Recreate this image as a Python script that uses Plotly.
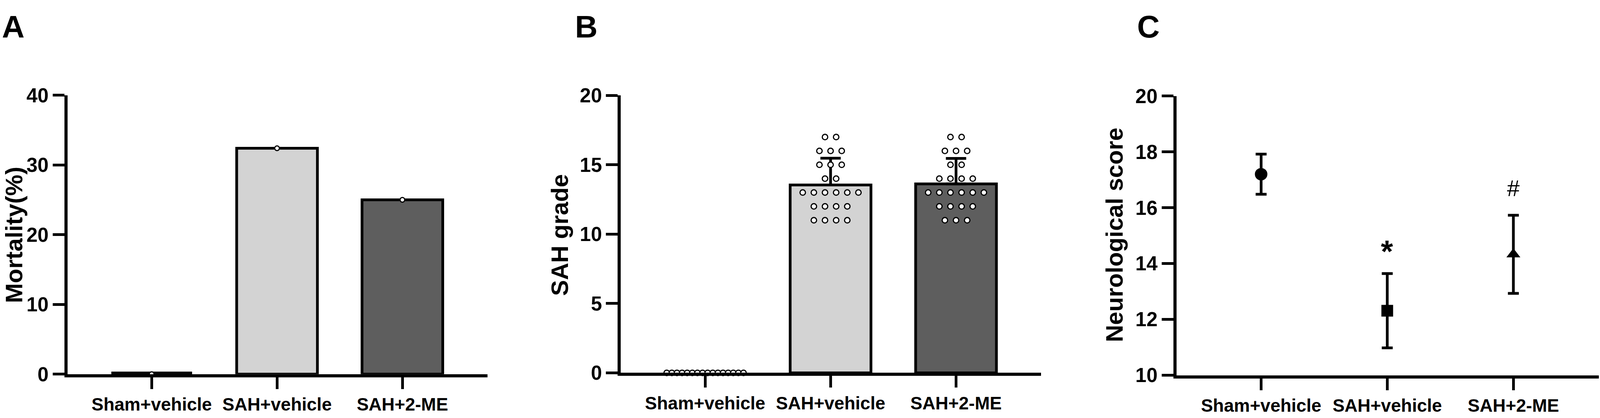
import statistics
import plotly.graph_objects as go

# ---------------- data ----------------
categories = ["Sham+vehicle", "SAH+vehicle", "SAH+2-ME"]

# Panel A: mortality (%)
mortality_pct = [0.0, 32.4, 25.0]

# Panel B: individual SAH grades
sah_grade_sham = [0, 0, 0, 0, 0, 0, 0, 0, 0, 0, 0, 0, 0, 0, 0, 0]
sah_grade_vehicle = [17, 17, 16, 16, 16, 15, 15, 15, 14, 14,
                     13, 13, 13, 13, 13, 13, 12, 12, 12, 12, 11, 11, 11, 11]
sah_grade_2me = [17, 17, 16, 16, 16, 15, 15, 14, 14, 14, 14,
                 13, 13, 13, 13, 13, 13, 12, 12, 12, 12, 11, 11, 11]

# Panel C: neurological score (mean +/- SD)
neuro_mean = [17.2, 12.31, 14.33]
neuro_sd = [0.72, 1.33, 1.40]
neuro_sig = ["", "*", "#"]

# ---------------- style ----------------
REF_W, H = 4317, 1070
W = 4096  # visible browser width
FONT = "Liberation Sans"
bar_colors = ["#ffffff", "#d3d3d3", "#5e5e5e"]
BAR_W = 0.644
XRANGE = [-0.672, 2.678]


def fx(p):
    return p / REF_W


def fy(p):
    return 1 - p / H


groups_b = [sah_grade_sham, sah_grade_vehicle, sah_grade_2me]
b_mean = [statistics.mean(g) for g in groups_b]
b_sd = [statistics.stdev(g) for g in groups_b]

fig = go.Figure()

# ----- Panel A -----
fig.add_trace(go.Bar(x=[0, 1, 2], y=mortality_pct, width=BAR_W,
                     marker=dict(color=bar_colors, line=dict(color="black", width=7)),
                     xaxis="x", yaxis="y", hoverinfo="skip"))
for i, v in enumerate(mortality_pct):
    if v == 0:
        fig.add_trace(go.Scatter(x=[i - BAR_W / 2, i + BAR_W / 2], y=[v, v], mode="lines",
                                 line=dict(color="black", width=13), xaxis="x", yaxis="y",
                                 cliponaxis=False, hoverinfo="skip"))
fig.add_trace(go.Scatter(x=[0, 1, 2], y=mortality_pct, mode="markers",
                         marker=dict(size=12, color="white", line=dict(color="black", width=3)),
                         xaxis="x", yaxis="y", cliponaxis=False, hoverinfo="skip"))

# ----- Panel B -----
fig.add_trace(go.Bar(x=[0, 1, 2], y=b_mean, width=BAR_W,
                     marker=dict(color=bar_colors, line=dict(color="black", width=7)),
                     error_y=dict(type="data", array=b_sd, arrayminus=[0, 0, 0], symmetric=False,
                                  color="black", thickness=7, width=26),
                     xaxis="x2", yaxis="y2", hoverinfo="skip"))
dot_x, dot_y = [], []
SPACING = 0.0888
MAXSPAN = 0.612
for i, g in enumerate(groups_b):
    levels = sorted(set(g), reverse=True)
    for lv in levels:
        n = g.count(lv)
        sp = SPACING if n <= 1 else min(SPACING, MAXSPAN / (n - 1))
        for k in range(n):
            dot_x.append(i + (k - (n - 1) / 2) * sp)
            dot_y.append(lv)
fig.add_trace(go.Scatter(x=dot_x, y=dot_y, mode="markers",
                         marker=dict(size=14, color="white", line=dict(color="black", width=3)),
                         xaxis="x2", yaxis="y2", cliponaxis=False, hoverinfo="skip"))

# ----- Panel C -----
fig.add_trace(go.Scatter(x=[0, 1, 2], y=neuro_mean, mode="markers",
                         marker=dict(symbol=["circle", "square", "triangle-up"], size=[32, 30, 31],
                                     color="black", opacity=1, line=dict(width=0)),
                         error_y=dict(type="data", array=neuro_sd, color="black", thickness=7, width=14),
                         xaxis="x3", yaxis="y3", cliponaxis=False, hoverinfo="skip"))

# ---------------- axes ----------------
def xaxis(domain, anchor):
    return dict(domain=domain, anchor=anchor, range=XRANGE, tickvals=[0, 1, 2], ticktext=categories,
                showline=True, linewidth=8, linecolor="black", ticks="outside", ticklen=30,
                tickwidth=7, tickcolor="black", showgrid=False, zeroline=False,
                tickfont=dict(family=FONT, size=46, color="black", weight="bold"))


def yaxis(domain, anchor, rng, dtick):
    return dict(domain=domain, anchor=anchor, range=rng, dtick=dtick, tick0=rng[0],
                showline=True, linewidth=8, linecolor="black", ticks="outside", ticklen=30,
                tickwidth=7, tickcolor="black", showgrid=False, zeroline=False,
                tickfont=dict(family=FONT, size=51, color="black", weight="bold"))


layout = dict(
    width=W, height=H, margin=dict(l=0, r=0, t=0, b=0),
    paper_bgcolor="white", plot_bgcolor="white", showlegend=False,
    xaxis=xaxis([fx(182), fx(1315)], "y"),
    yaxis=yaxis([fy(982), fy(228)], "x", [0, 40], 10),
    xaxis2=xaxis([fx(1675), fx(2809)], "y2"),
    yaxis2=yaxis([fy(978.5), fy(228.5)], "x2", [0, 20], 5),
    xaxis3=xaxis([fx(3174), fx(4314)], "y3"),
    yaxis3=yaxis([fy(985), fy(230)], "x3", [10, 20], 2),
)
fig.update_layout(**layout)

ann = []
# panel letters
for letter, xp in [("A", 3), ("B", 1549), ("C", 3066)]:
    ann.append(dict(text=letter, x=fx(xp), y=fy(42.5), xref="paper", yref="paper",
                    xanchor="left", yanchor="middle", showarrow=False,
                    font=dict(family=FONT, size=80, color="black", weight="bold")))
# y-axis titles
for title, xp in [("Mortality(%)", 38), ("SAH grade", 1510), ("Neurological score", 3007)]:
    ann.append(dict(text=title, x=fx(xp), y=fy(606), xref="paper", yref="paper",
                    xanchor="center", yanchor="middle", textangle=-90, showarrow=False,
                    font=dict(family=FONT, size=61, color="black", weight="bold")))
# significance marks above the error bars
for i, s in enumerate(neuro_sig):
    if not s:
        continue
    if s == "*":
        f = dict(family=FONT, size=80, color="black", weight="bold")
        ys = 10
    else:
        f = dict(family=FONT, size=58, color="black")
        ys = 35
    ann.append(dict(text=s, x=i, y=neuro_mean[i] + neuro_sd[i], xref="x3", yref="y3",
                    xanchor="center", yanchor="bottom", yshift=ys, showarrow=False, font=f))
fig.update_layout(annotations=ann)

post = ("document.body.style.margin='0';document.body.style.overflow='hidden';"
        "var gd=document.getElementById('{plot_id}');"
        "if(window.innerWidth && Math.abs(window.innerWidth-gd.layout.width)>2){"
        "Plotly.relayout(gd,{width:window.innerWidth});}")
fig.write_html("out.html", config={"staticPlot": True}, post_script=post)
